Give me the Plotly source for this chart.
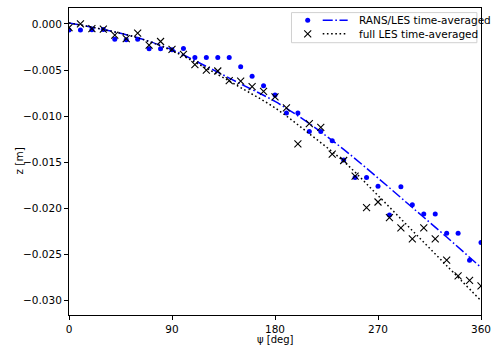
import plotly.graph_objects as go

# ---- data ----
psi = list(range(0, 361, 10))
z_rans = [-0.00065, -0.00065, -0.00062, -0.00060, -0.00166, -0.00170, -0.00166, -0.00268,
          -0.00268, -0.00280, -0.00266, -0.00363, -0.00363, -0.00363, -0.00363, -0.00465,
          -0.00567, -0.00670, -0.00770, -0.00965, -0.00965, -0.01167, -0.01167, -0.01265,
          -0.01475, -0.01664, -0.01664, -0.01760, -0.02070, -0.01764, -0.01960, -0.02060,
          -0.02060, -0.02270, -0.02270, -0.02562, -0.02370]
z_les = [-0.00040, 0.00000, -0.00050, -0.00055, -0.00120, -0.00160, -0.00100, -0.00230,
         -0.00190, -0.00275, -0.00330, -0.00440, -0.00500, -0.00510, -0.00615, -0.00620,
         -0.00680, -0.00730, -0.00790, -0.00910, -0.01300, -0.01080, -0.01120, -0.01410,
         -0.01480, -0.01650, -0.01990, -0.01930, -0.02100, -0.02210, -0.02330, -0.02210,
         -0.02330, -0.02560, -0.02730, -0.02780, -0.02840]

psi_fit = list(range(0, 361, 30))
z_rans_fit = [0.00010, -0.00060, -0.00150, -0.00280, -0.00460, -0.00650, -0.00840,
              -0.01080, -0.01360, -0.01670, -0.01990, -0.02310, -0.02640]
z_les_fit = [0.00010, -0.00060, -0.00150, -0.00290, -0.00480, -0.00690, -0.00910,
             -0.01190, -0.01490, -0.01860, -0.02240, -0.02620, -0.03000]

x_ticks = [0, 90, 180, 270, 360]
y_ticks = [0.0, -0.005, -0.010, -0.015, -0.020, -0.025, -0.030]
labels = ["RANS/LES time-averaged", "full LES time-averaged"]
x_title = "ψ [deg]"
y_title = "z [m]"

BLUE = "#0000ff"
BLACK = "#000000"
DASHDOT = "10px,2.6px,1.6px,2.6px"
DOTTED = "1.6px,2.6px"
FONT = "DejaVu Sans"

fig = go.Figure()
fig.add_trace(go.Scatter(x=psi, y=z_rans, mode="markers",
                         marker=dict(symbol="circle", size=5, color=BLUE, line_width=0),
                         showlegend=False))
fig.add_trace(go.Scatter(x=psi_fit, y=z_rans_fit, mode="lines", line_shape="spline",
                         line=dict(color=BLUE, width=1.5, dash=DASHDOT), showlegend=False))
fig.add_trace(go.Scatter(x=psi, y=z_les, mode="markers",
                         marker=dict(symbol="x-thin", size=7, color=BLACK,
                                     line=dict(width=1.1, color=BLACK)),
                         showlegend=False))
fig.add_trace(go.Scatter(x=psi_fit, y=z_les_fit, mode="lines", line_shape="spline",
                         line=dict(color=BLACK, width=1.5, dash=DOTTED), showlegend=False))

# ---- manual legend (matplotlib style: marker + line side by side) ----
leg_x0, leg_x1, leg_y0, leg_y1 = 0.540, 0.990, 0.887, 0.985
row_y = [0.960, 0.916]
mark_x = 0.5794
line_x = [0.6158, 0.6764]
text_x = 0.699

fig.add_shape(type="rect", xref="paper", yref="paper", x0=leg_x0, x1=leg_x1,
              y0=leg_y0, y1=leg_y1, line=dict(color="#d0d0d0", width=1),
              fillcolor="rgba(255,255,255,0.8)", layer="below")
fig.add_trace(go.Scatter(x=[mark_x], y=[row_y[0]], xaxis="x2", yaxis="y2", mode="markers",
                         marker=dict(symbol="circle", size=5, color=BLUE, line_width=0),
                         showlegend=False, hoverinfo="skip"))
fig.add_trace(go.Scatter(x=line_x, y=[row_y[0]] * 2, xaxis="x2", yaxis="y2", mode="lines",
                         line=dict(color=BLUE, width=1.5, dash=DASHDOT),
                         showlegend=False, hoverinfo="skip"))
fig.add_trace(go.Scatter(x=[mark_x], y=[row_y[1]], xaxis="x2", yaxis="y2", mode="markers",
                         marker=dict(symbol="x-thin", size=7, color=BLACK,
                                     line=dict(width=1.1, color=BLACK)),
                         showlegend=False, hoverinfo="skip"))
fig.add_trace(go.Scatter(x=line_x, y=[row_y[1]] * 2, xaxis="x2", yaxis="y2", mode="lines",
                         line=dict(color=BLACK, width=1.5, dash=DOTTED),
                         showlegend=False, hoverinfo="skip"))
for lab, yy in zip(labels, row_y):
    fig.add_annotation(x=text_x, y=yy, xref="paper", yref="paper", text=lab,
                       showarrow=False, xanchor="left", yanchor="middle",
                       font=dict(family=FONT, size=10.5, color=BLACK))

# axis titles as annotations (placed like matplotlib)
fig.add_annotation(x=0.5, y=0, xref="paper", yref="paper", text=x_title,
                   showarrow=False, xanchor="center", yanchor="middle", yshift=-24.5,
                   font=dict(family=FONT, size=10, color=BLACK))
fig.add_annotation(x=0, y=0.5, xref="paper", yref="paper", text=y_title, textangle=-90,
                   showarrow=False, xanchor="center", yanchor="middle", xshift=-51,
                   font=dict(family=FONT, size=10.5, color=BLACK))

axis_common = dict(showline=True, linecolor=BLACK, linewidth=1, mirror=True,
                   ticks="outside", ticklen=4, tickwidth=1, tickcolor=BLACK,
                   showgrid=False, zeroline=False, ticklabeloverflow="allow",
                   automargin=False,
                   tickfont=dict(family=FONT, size=10.5, color=BLACK))

fig.update_layout(
    width=491, height=345,
    margin=dict(l=69, r=10, t=8, b=30),
    paper_bgcolor="white", plot_bgcolor="white",
    font=dict(family=FONT, size=10.5, color=BLACK),
    xaxis=dict(range=[0, 360], tickvals=x_ticks, ticktext=[str(v) for v in x_ticks],
               **axis_common),
    yaxis=dict(range=[-0.03155, 0.00173], tickvals=y_ticks, tickformat=".3f",
               **axis_common),
    xaxis2=dict(overlaying="x", range=[0, 1], visible=False, fixedrange=True),
    yaxis2=dict(overlaying="y", range=[0, 1], visible=False, fixedrange=True),
    showlegend=False,
)

fig.write_html("out.html")
